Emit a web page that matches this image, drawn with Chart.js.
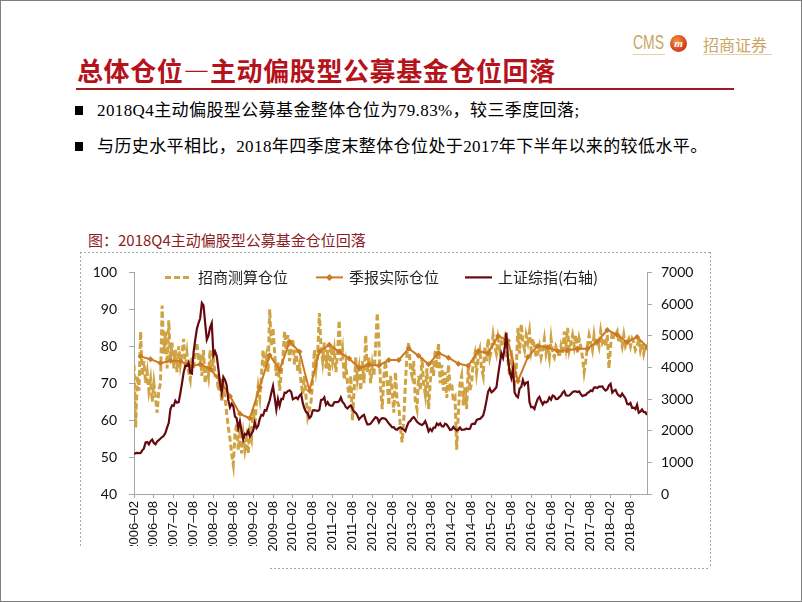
<!DOCTYPE html>
<html lang="zh-CN">
<head>
<meta charset="utf-8">
<title>总体仓位—主动偏股型公募基金仓位回落</title>
<script src="https://cdn.jsdelivr.net/npm/chart.js@4.4.1/dist/chart.umd.min.js"></script>
<style>
  html, body { margin: 0; padding: 0; background: #fff; }
  #page { position: relative; width: 802px; height: 602px; overflow: hidden; background: #fff; }
  #edge { position: absolute; left: 0; top: 0; width: 802px; height: 602px; box-sizing: border-box;
          border: 1px solid #7f7f7f; pointer-events: none; }
  .abs { position: absolute; white-space: nowrap; }

  /* logo */
  .cms { left: 633px; top: 31px; font: 20px "Liberation Sans", sans-serif; color: #C9A463;
         transform: scaleX(0.7); transform-origin: left top; }
  .badge { left: 670px; top: 35px; width: 17px; height: 17px; border-radius: 50%;
           background: radial-gradient(circle at 40% 35%, #F5913A, #C8361A 75%);
           color: #fff; font: bold italic 11px "Liberation Serif", serif; text-align: center; line-height: 16px; }
  .zs { left: 703px; top: 32px; font: 16px "Noto Sans CJK SC", sans-serif; color: #C9A463; }
  .logo-rule { height: 1px; background: #E3D3A8; top: 54px; }

  /* heading */
  .title { left: 77px; top: 52px; font: bold 26px "Noto Sans CJK SC", sans-serif; letter-spacing: 0.6px;
           color: #B5121B; line-height: 36px; }
  .title-rule { left: 76px; top: 88px; width: 658px; height: 2px; background: #A3181E; }

  /* bullets */
  .bullet { left: 75px; font: 17px "Liberation Serif", "Noto Sans CJK SC", serif; letter-spacing: 0.4px;
            color: #000; line-height: 22px; }
  .bullet .sq { display: inline-block; width: 8px; height: 9px; background: #000; margin-right: 14px;
                vertical-align: 1px; }

  .caption { left: 88px; top: 230px; font: 15px "Noto Sans CJK SC", sans-serif; color: #8B1C24; line-height: 20px; }

  #frame { position: absolute; left: 0; top: 0; }
  #chartBox { position: absolute; left: 80px; top: 252px; width: 630px; height: 316px; }
  #clip { position: absolute; left: 81px; top: 546px; width: 184px; height: 14px; background: #fff; }
</style>
</head>
<body>
<div id="page">
  <div class="abs cms">CMS</div>
  <div class="abs badge">m</div>
  <div class="abs zs">招商证券</div>
  <div class="abs logo-rule" style="left:633px;width:32px"></div>
  <div class="abs logo-rule" style="left:703px;width:69px"></div>

  <div class="abs title">总体仓位—主动偏股型公募基金仓位回落</div>
  <div class="abs title-rule"></div>

  <div class="abs bullet" style="top:100px"><span class="sq"></span>2018Q4主动偏股型公募基金整体仓位为79.83%，较三季度回落;</div>
  <div class="abs bullet" style="top:136px"><span class="sq"></span>与历史水平相比，2018年四季度末整体仓位处于2017年下半年以来的较低水平。</div>

  <div class="abs caption">图：2018Q4主动偏股型公募基金仓位回落</div>

  <div id="chartBox"><canvas id="posChart" width="630" height="316"></canvas></div>
  <div id="clip"></div>

  <svg id="frame" width="802" height="602">
    <g stroke="#A6A6A6" stroke-width="1" stroke-dasharray="2 2" fill="none">
      <line x1="80" y1="252.5" x2="710" y2="252.5"/>
      <line x1="80.5" y1="252" x2="80.5" y2="546"/>
      <line x1="710.5" y1="252" x2="710.5" y2="568"/>
      <line x1="270" y1="568.5" x2="710" y2="568.5"/>
    </g>
  </svg>
  <div id="edge"></div>
</div>

<script>
// -----------------------
// Dados
// -----------------------
const seriesNames = ["招商测算仓位", "季报实际仓位", "上证综指(右轴)"];

// tick labels, one every 6 months starting 2006-02
const xTickLabels = [
  "2006–02", "2006–08", "2007–02", "2007–08", "2008–02", "2008–08", "2009–02",
  "2009–08", "2010–02", "2010–08", "2011–02", "2011–08", "2012–02", "2012–08",
  "2013–02", "2013–08", "2014–02", "2014–08", "2015–02", "2015–08", "2016–02",
  "2016–08", "2017–02", "2017–08", "2018–02", "2018–08"
];

// 招商测算仓位 (%), two readings per month from 2006-02 to 2018-12, last one 2019-01
const estPos = [
  75, 58, 72, 68, 84, 72, 76, 70, 73, 68, 71, 65, 70, 66, 62, 68, 70, 91, 78, 84, 74, 87,
  76, 81, 74, 79, 73, 80, 75, 78, 82, 74, 78, 73, 71, 77, 74, 79, 81, 76, 78, 72, 79, 70, 75, 72,
  79, 73, 77, 72, 72, 68, 70, 65, 69, 66, 62, 58, 55, 51, 48, 56, 59, 52, 56, 51, 56, 52, 55, 51,
  57, 55, 63, 58, 65, 69, 66, 72, 79, 74, 77, 73, 90, 80, 85, 78, 72, 76, 68, 73, 77, 84, 79, 83,
  76, 80, 82, 75, 79, 73, 75, 70, 67, 72, 66, 61, 63, 65, 71, 79, 74, 78, 89, 80, 76, 81, 74, 79,
  72, 80, 76, 79, 73, 78, 87, 76, 79, 71, 75, 70, 66, 72, 60, 68, 77, 71, 74, 68, 76, 70, 83, 73,
  77, 70, 75, 72, 80, 89, 81, 69, 63, 72, 76, 70, 64, 72, 68, 62, 73, 65, 64, 58, 54, 60, 70, 78,
  81, 74, 72, 76, 65, 63, 72, 68, 77, 70, 67, 74, 63, 70, 76, 72, 79, 74, 81, 70, 75, 68, 73, 66,
  75, 69, 70, 65, 66, 52, 62, 70, 72, 64, 69, 63, 75, 68, 70, 76, 78, 73, 77, 79, 74, 72, 80, 76,
  82, 77, 79, 83, 80, 78, 82, 79, 81, 80, 82, 77, 76, 72, 79, 72, 70, 74, 85, 78, 86, 81, 79, 83,
  81, 84, 79, 82, 80, 77, 78, 80, 77, 79, 82, 78, 80, 77, 82, 78, 77, 80, 79, 77, 80, 78, 84, 80,
  85, 79, 81, 83, 80, 83, 78, 82, 80, 77, 73, 76, 80, 83, 81, 79, 83, 80, 82, 80, 84, 81, 82, 80,
  83, 74, 80, 84, 82, 83, 84, 81, 82, 80, 83, 80, 81, 82, 80, 82, 81, 79, 80, 82, 79, 81, 78, 80,
  79
];

// 季报实际仓位 (%), quarter ends 2006Q1 .. 2018Q4
const actualPos = [
  77.2, 76.5, 75.4, 76.1,
  76.0, 74.6, 75.1, 73.9,
  70.7, 66.5, 61.7, 60.5,
  68.9, 77.6, 73.6, 81.2,
  78.5, 68.0, 78.5, 80.4,
  78.5, 76.7, 74.1, 75.0,
  74.8, 76.3, 76.3, 79.4,
  77.4, 75.1, 78.2, 76.9,
  75.3, 74.7, 78.7, 78.1,
  82.8, 81.5, 70.6, 77.1,
  80.1, 79.7, 78.7, 78.9,
  79.3, 79.3, 81.3, 84.4,
  83.1, 81.1, 82.5, 79.83
];

// 上证综指, same half-month grid as estPos
const sseIndex = [
  1258, 1290, 1299, 1290, 1298, 1380, 1440, 1630, 1641, 1570, 1672, 1720, 1612, 1570, 1658, 1700, 1752, 1800, 1837, 1930, 2099, 2250,
  2675, 2800, 2786, 2950, 2881, 2900, 3183, 3500, 3841, 4050, 4050, 4150, 3820, 3800, 4471, 4870, 5218, 5400, 5552, 6030, 5955, 5400, 4871, 5000,
  5262, 5400, 4383, 4500, 4348, 3950, 3473, 3200, 3693, 3600, 3433, 2950, 2736, 2850, 2776, 2450, 2397, 2080, 2293, 2000, 1729, 1900, 1871, 2000,
  1821, 1900, 1991, 2250, 2082, 2150, 2373, 2500, 2477, 2650, 2633, 2800, 2959, 3200, 3412, 3050, 2667, 3000, 2779, 3000, 2996, 3200, 3195, 3250,
  3277, 3220, 2989, 3020, 3051, 3000, 3109, 3160, 2870, 2700, 2592, 2550, 2398, 2450, 2638, 2650, 2638, 2620, 2656, 2970, 2979, 3050, 2820, 2900,
  2808, 2790, 2790, 2900, 2905, 2900, 2928, 3050, 2911, 2850, 2743, 2700, 2762, 2800, 2701, 2600, 2568, 2480, 2359, 2420, 2469, 2500, 2333, 2200,
  2199, 2220, 2292, 2360, 2428, 2400, 2263, 2360, 2397, 2390, 2373, 2300, 2225, 2170, 2103, 2110, 2047, 2030, 2086, 2110, 2069, 2030, 1980, 2150,
  2269, 2310, 2385, 2430, 2366, 2280, 2237, 2200, 2178, 2220, 2301, 2160, 1979, 2060, 1994, 2100, 2098, 2230, 2175, 2230, 2141, 2130, 2220, 2190,
  2116, 2020, 2033, 2120, 2056, 2010, 2033, 2100, 2026, 2030, 2039, 2070, 2048, 2060, 2202, 2220, 2217, 2330, 2364, 2370, 2420, 2480, 2683, 2950,
  3235, 3330, 3210, 3250, 3310, 3370, 3748, 4100, 4442, 4300, 4612, 5100, 4277, 3850, 3664, 3950, 3206, 3100, 3053, 3330, 3383, 3600, 3445, 3520,
  3539, 2900, 2738, 2750, 2688, 2860, 3004, 3070, 2938, 2830, 2917, 2890, 2930, 3050, 2979, 3110, 3085, 3000, 3005, 3060, 3100, 3200, 3250, 3120,
  3104, 3110, 3159, 3220, 3242, 3240, 3223, 3240, 3155, 3090, 3117, 3130, 3192, 3220, 3273, 3250, 3361, 3370, 3349, 3390, 3393, 3400, 3317, 3270,
  3307, 3430, 3481, 3200, 3259, 3290, 3169, 3110, 3082, 3170, 3095, 3020, 2847, 2830, 2876, 2720, 2725, 2680, 2821, 2570, 2603, 2670, 2588, 2590,
  2494
];

// x axis is in months since 2006-02
const halfMonth = (v, i) => ({ x: i * 0.5, y: v });
const quarterEnd = (v, i) => ({ x: 2 + i * 3, y: v });

const GOLD = "#CFA243";
const ORANGE = "#CC7A22";
const MAROON = "#650A10";
const AXIS = "#A6A6A6";

// -----------------------
// Legenda dentro do gráfico
// -----------------------
const legendSlots = [31, 182, 331]; // px from chart area left

const insideLegend = {
  id: "insideLegend",
  afterDatasetsDraw(chart) {
    const { ctx, chartArea } = chart;
    const y = chartArea.top + 5;
    ctx.save();
    chart.data.datasets.forEach((ds, i) => {
      const x0 = chartArea.left + legendSlots[i];
      ctx.strokeStyle = ds.borderColor;
      ctx.lineWidth = ds.borderWidth;
      ctx.setLineDash(ds.borderDash || []);
      ctx.beginPath();
      ctx.moveTo(x0, y);
      ctx.lineTo(x0 + 27, y);
      ctx.stroke();
      ctx.setLineDash([]);
      if (ds.pointRadius > 0) {
        const cx = x0 + 13.5, r = 3.5;
        ctx.fillStyle = ds.borderColor;
        ctx.beginPath();
        ctx.moveTo(cx, y - r); ctx.lineTo(cx + r, y); ctx.lineTo(cx, y + r); ctx.lineTo(cx - r, y);
        ctx.closePath();
        ctx.fill();
      }
      ctx.fillStyle = "#222";
      ctx.font = '15px "Noto Sans CJK SC", sans-serif';
      ctx.textBaseline = "middle";
      ctx.fillText(ds.label, x0 + 33, y);
    });
    ctx.restore();
  }
};

// -----------------------
// Gráfico
// -----------------------
const tickFont = { family: "Lato, sans-serif", size: 14 };

new Chart(document.getElementById("posChart").getContext("2d"), {
  type: "line",
  data: {
    datasets: [
      { label: seriesNames[0], data: estPos.map(halfMonth), yAxisID: "y", order: 3,
        borderColor: GOLD, borderWidth: 3, borderDash: [6, 3], pointRadius: 0, tension: 0 },
      { label: seriesNames[1], data: actualPos.map(quarterEnd), yAxisID: "y", order: 2,
        borderColor: ORANGE, backgroundColor: ORANGE, borderWidth: 2, pointStyle: "rectRot",
        pointRadius: 3, pointBorderWidth: 0, tension: 0 },
      { label: seriesNames[2], data: sseIndex.map(halfMonth), yAxisID: "y2", order: 1,
        borderColor: MAROON, borderWidth: 2.2, pointRadius: 0, tension: 0 }
    ]
  },
  options: {
    responsive: false,
    animation: false,
    devicePixelRatio: 1,
    layout: { padding: { top: 16, left: 0, right: 0, bottom: 0 } },
    plugins: { legend: { display: false }, tooltip: { enabled: false } },
    scales: {
      x: {
        type: "linear", min: 0, max: 155,
        afterBuildTicks: s => { s.ticks = xTickLabels.map((_, i) => ({ value: i * 6 })); },
        afterFit: s => { s.height = 74; },
        ticks: {
          autoSkip: false, minRotation: 90, maxRotation: 90, padding: 3, color: "#111",
          font: { family: '"Liberation Sans", Arial, sans-serif', size: 13 },
          callback: (v, i) => xTickLabels[i]
        },
        grid: { drawOnChartArea: false, tickLength: 4, color: AXIS },
        border: { color: AXIS }
      },
      y: {
        position: "left", min: 40, max: 100,
        afterFit: s => { s.width = 54; },
        ticks: { stepSize: 10, padding: 12, color: "#111", font: tickFont, callback: v => String(v) },
        grid: { drawOnChartArea: false, tickLength: 5, color: AXIS },
        border: { color: AXIS }
      },
      y2: {
        position: "right", min: 0, max: 7000,
        afterFit: s => { s.width = 63; },
        ticks: { stepSize: 1000, padding: 9, color: "#111", font: tickFont, callback: v => String(v) },
        grid: { drawOnChartArea: false, tickLength: 5, color: AXIS },
        border: { color: AXIS }
      }
    }
  },
  plugins: [insideLegend]
});
</script>
</body>
</html>
